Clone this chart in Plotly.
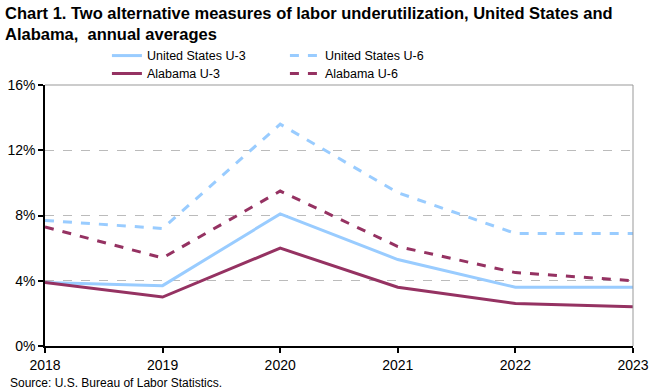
import plotly.graph_objects as go

years = [2018, 2019, 2020, 2021, 2022, 2023]
us_u3 = [3.9, 3.7, 8.1, 5.3, 3.6, 3.6]
us_u6 = [7.7, 7.2, 13.6, 9.4, 6.9, 6.9]
al_u3 = [3.9, 3.0, 6.0, 3.6, 2.6, 2.4]
al_u6 = [7.3, 5.4, 9.5, 6.1, 4.5, 4.0]
y_ticks = [0, 4, 8, 12, 16]
y_labels = ["0%", "4%", "8%", "12%", "16%"]

US_C = "#99CCFF"
AL_C = "#953262"
FONT = "Liberation Sans, Arial, sans-serif"

fig = go.Figure()
fig.add_trace(go.Scatter(x=years, y=us_u3, name="United States U-3", mode="lines",
                         line=dict(color=US_C, width=3), legend="legend"))
fig.add_trace(go.Scatter(x=years, y=us_u6, name="United States U-6", mode="lines",
                         line=dict(color=US_C, width=3, dash="dash"), legend="legend"))
fig.add_trace(go.Scatter(x=years, y=al_u3, name="Alabama U-3", mode="lines",
                         line=dict(color=AL_C, width=3), legend="legend2"))
fig.add_trace(go.Scatter(x=years, y=al_u6, name="Alabama U-6", mode="lines",
                         line=dict(color=AL_C, width=3, dash="dash"), legend="legend2"))

leg_common = dict(
    orientation="h", x=0.162, xref="container", xanchor="left",
    yref="container", yanchor="top",
    entrywidth=133, entrywidthmode="pixels",
    font=dict(family=FONT, size=12.5, color="black"),
    tracegroupgap=0, itemwidth=30,
    bgcolor="rgba(0,0,0,0)",
)

fig.update_layout(
    width=660, height=390,
    margin=dict(l=45, r=27, t=85, b=44, autoexpand=False),
    paper_bgcolor="white", plot_bgcolor="white",
    font=dict(family=FONT, size=14, color="black"),
    legend=dict(leg_common, y=0.895),
    legend2=dict(leg_common, y=0.849),
    showlegend=True,
    annotations=[
        dict(
            text="<b>Chart 1. Two alternative measures of labor underutilization, United States and<br>Alabama,  annual averages</b>",
            x=-0.072, xref="paper", xanchor="left", align="left",
            y=1.318, yref="paper", yanchor="top",
            showarrow=False, font=dict(family=FONT, size=16.5, color="black"),
        ),
        dict(
            text="Source: U.S. Bureau of Labor Statistics.",
            x=-0.063, xref="paper", xanchor="left",
            y=-0.175, yref="paper", yanchor="bottom",
            showarrow=False, font=dict(family=FONT, size=12, color="black"),
        ),
    ],
)

fig.update_xaxes(
    range=[2018, 2023], tickvals=years, ticktext=[str(y) for y in years],
    showgrid=False, showline=True, linecolor="black", linewidth=1.5,
    ticks="outside", ticklen=5, tickcolor="black", tickwidth=1.5,
    mirror=False, zeroline=False, tickfont=dict(size=14),
)
fig.update_yaxes(
    range=[0, 16], tickvals=y_ticks, ticktext=y_labels,
    showgrid=True, gridcolor="#BBBBBB", griddash="dash", gridwidth=1,
    showline=True, linecolor="black", linewidth=1.5,
    ticks="outside", ticklen=5, tickcolor="black", tickwidth=1.5,
    zeroline=False, tickfont=dict(size=14),
)
fig.add_shape(type="line", xref="paper", yref="paper", x0=0, x1=1, y0=1, y1=1,
              line=dict(color="#999999", width=1))
fig.add_shape(type="line", xref="paper", yref="paper", x0=1, x1=1, y0=0, y1=1,
              line=dict(color="#999999", width=1))

fig.write_html("out.html", config={"displayModeBar": False},
               post_script="document.body.style.margin='0';")
